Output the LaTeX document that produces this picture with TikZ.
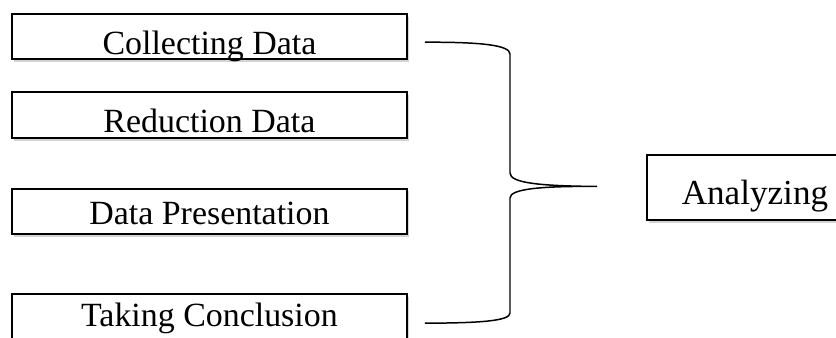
\documentclass[tikz,border=0pt]{standalone}
\usepackage{fontspec}
\setmainfont{Liberation Serif}
\usepackage{tikz}
\usetikzlibrary{positioning, calc, shadows}

\begin{document}
\begin{tikzpicture}[x=0.02cm, y=-0.02cm,
    stage/.style={rectangle, draw=black, line width=1.1pt, fill=white,
        minimum width=7.9cm, inner xsep=0pt, inner ysep=0pt,
        text height=0.81cm, text depth=0.1cm,
        font=\fontsize{19.3}{23}\selectfont,
        drop shadow={shadow xshift=1.2pt, shadow yshift=-1.5pt, opacity=0.35}},
    result/.style={stage, minimum width=4.32cm, text height=1.0cm, text depth=0.3cm,
        font=\fontsize{20}{24}\selectfont},
    brace/.style={line width=0.85pt, black},
]
\path[use as bounding box] (0,0) rectangle (836,338);
\clip (0,0) rectangle (836,338);

% Steps on the left
\node[stage, anchor=north west] (C1) at (11,13) {Collecting Data};
\node[stage, below=0.62cm of C1] (C2) {Reduction Data};
\node[stage, below=0.98cm of C2, text height=0.71cm, text depth=0.2cm] (C3) {Data Presentation};
\node[stage, below=1.16cm of C3, text height=0.64cm, text depth=0.36cm] (C4) {Taking Conclusion};

% Result
\node[result, anchor=north west] (AN) at (646,154) {Analyzing};

% Brace ends
\coordinate (b1) at ($(C1.east)+(17,5.5)$);
\coordinate (b2) at ($(C4.east)+(17,4)$);
\coordinate (tip) at ($(AN.west)+(-49,-1)$);

% Brace
\draw[brace] (b1) .. controls (480,42) and (510,45) .. (510,54) -- (510,173)
    .. controls (510,183) and (540,186) .. (tip)
    .. controls (540,186) and (510,189) .. (510,198) -- (510,313)
    .. controls (510,321) and (480,323) .. (b2);
\end{tikzpicture}
\end{document}
